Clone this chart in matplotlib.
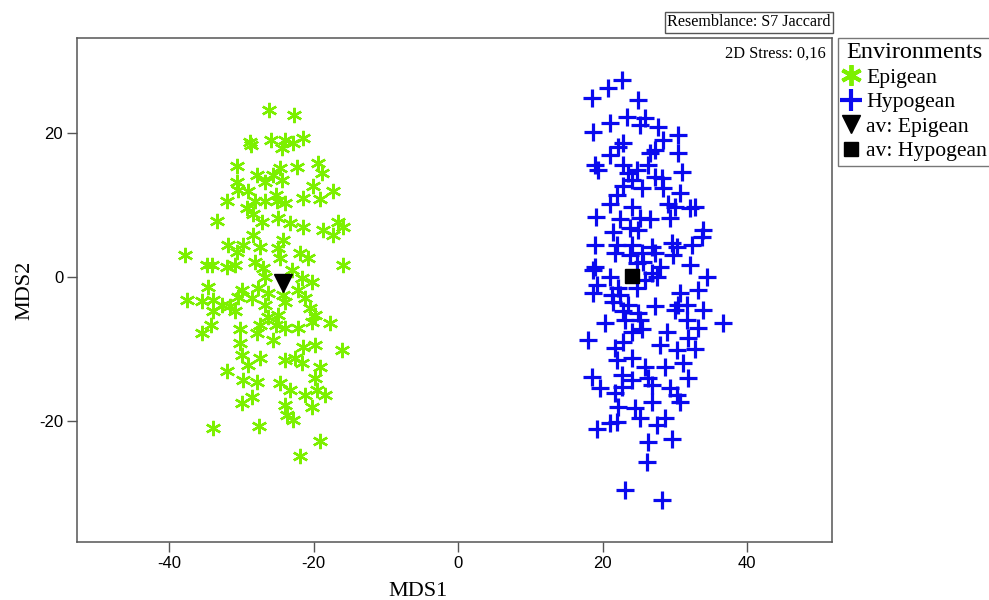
import numpy as np
import matplotlib
matplotlib.use("Agg")
import matplotlib.pyplot as plt
from matplotlib.lines import Line2D

# MDS coordinates
epigean = [
    (-26.2, 23.2), (-22.7, 22.5), (-28.8, 18.8), (-28.7, 18.4), (-25.9, 19.1), (-24.0, 19.1),
    (-24.4, 17.9), (-22.9, 18.6), (-21.5, 19.3), (-30.7, 15.5), (-24.7, 15.2), (-22.3, 15.3),
    (-19.4, 15.9), (-18.8, 14.5), (-27.8, 14.2), (-25.6, 14.2), (-24.4, 13.5), (-30.6, 13.2),
    (-30.5, 12.1), (-26.7, 13.2), (-20.1, 12.6), (-17.3, 11.9), (-21.5, 11.0), (-19.1, 10.8),
    (-25.3, 11.4), (-29.1, 11.9), (-32.0, 10.5), (-28.1, 10.5), (-29.2, 9.6), (-26.7, 10.5),
    (-25.1, 10.5), (-24.0, 10.3), (-33.4, 7.8), (-28.4, 8.7), (-24.9, 8.2), (-16.6, 7.6),
    (-27.2, 7.6), (-23.3, 7.5), (-21.5, 7.0), (-18.7, 6.6), (-17.3, 5.9), (-15.9, 6.9),
    (-37.8, 3.1), (-34.8, 1.7), (-34.1, 1.7), (-31.9, 4.5), (-30.6, 3.5), (-29.8, 4.5),
    (-28.4, 5.9), (-27.4, 4.2), (-24.9, 4.1), (-24.2, 5.2), (-24.7, 2.7), (-21.9, 3.4),
    (-20.8, 2.7), (-32.0, 1.4), (-30.9, 1.7), (-28.1, 2.1), (-27.1, 1.3), (-26.7, 0.0),
    (-23.0, 1.0), (-21.6, -0.1), (-20.2, -0.7), (-15.9, 1.7), (-34.6, -1.4), (-29.9, -1.8),
    (-27.7, -1.5), (-26.3, -2.2), (-24.2, -2.5), (-22.2, -1.8), (-37.5, -3.2), (-35.5, -3.4),
    (-33.9, -3.2), (-32.7, -3.9), (-31.6, -4.1), (-30.5, -2.8), (-28.5, -2.9), (-26.7, -3.9),
    (-24.0, -3.5), (-21.2, -2.9), (-20.5, -4.3), (-19.8, -5.3), (-33.9, -4.8), (-30.9, -4.8),
    (-26.3, -5.5), (-24.9, -5.3), (-20.2, -6.2), (-17.7, -6.4), (-34.3, -6.7), (-30.2, -7.3),
    (-27.4, -6.7), (-25.3, -6.7), (-24.0, -7.1), (-22.2, -7.1), (-35.5, -7.8), (-27.8, -7.8),
    (-25.6, -8.8), (-30.2, -9.2), (-21.5, -9.7), (-19.8, -9.5), (-16.1, -10.1), (-29.9, -10.8),
    (-27.4, -11.3), (-29.1, -12.2), (-24.0, -11.5), (-22.6, -11.3), (-21.6, -12.0), (-19.1, -12.5),
    (-32.0, -13.1), (-29.8, -14.3), (-27.8, -14.6), (-24.7, -14.7), (-19.8, -14.0), (-23.3, -15.7),
    (-21.2, -16.4), (-19.5, -15.7), (-18.4, -16.4), (-28.5, -16.7), (-29.9, -17.5), (-24.0, -17.8),
    (-20.2, -18.1), (-23.7, -19.2), (-22.9, -19.9), (-33.9, -21.0), (-27.6, -20.7), (-19.1, -22.8),
    (-21.9, -24.9),
]

hypogean = [
    (22.7, 27.4), (20.8, 26.3), (18.6, 24.9), (24.9, 24.6), (21.1, 21.4), (23.4, 22.3),
    (25.9, 22.1), (25.2, 21.2), (18.7, 20.1), (27.7, 20.8), (28.4, 19.1), (30.5, 19.8),
    (22.9, 18.7), (22.2, 18.1), (21.1, 17.0), (26.6, 17.3), (27.3, 17.7), (30.5, 17.3),
    (19.0, 15.6), (19.4, 14.9), (22.9, 15.6), (24.8, 14.9), (26.3, 15.6), (23.5, 14.5),
    (27.3, 13.9), (28.3, 13.8), (31.0, 14.6), (24.1, 13.5), (25.5, 12.4), (22.9, 12.6),
    (22.0, 11.4), (28.4, 12.4), (30.7, 11.7), (21.1, 10.1), (24.1, 9.8), (29.1, 10.1),
    (30.1, 9.8), (32.1, 9.6), (32.8, 9.8), (19.1, 8.4), (22.4, 8.0), (25.2, 8.2),
    (26.6, 8.0), (29.4, 8.2), (21.5, 6.3), (23.8, 6.8), (24.9, 6.6), (33.9, 6.6),
    (33.8, 5.6), (19.0, 4.5), (22.0, 4.5), (24.1, 4.5), (26.9, 4.2), (29.6, 4.7),
    (30.3, 4.2), (32.4, 4.5), (21.7, 3.4), (23.8, 3.1), (25.5, 3.4), (27.3, 3.4),
    (29.8, 3.1), (24.8, 2.0), (25.6, 2.1), (32.1, 1.7), (19.0, 1.4), (18.7, 1.0),
    (28.0, 1.4), (26.9, 0.6), (21.1, 0.0), (25.9, -0.4), (27.6, 0.0), (34.5, 0.0),
    (19.3, -1.1), (22.2, -1.5), (24.8, -1.5), (18.7, -2.2), (21.3, -2.5), (22.4, -2.5),
    (30.7, -2.2), (33.2, -1.8), (21.5, -3.5), (23.5, -3.9), (27.3, -4.1), (30.5, -3.9),
    (31.7, -3.9), (22.9, -4.8), (24.9, -5.0), (30.1, -4.6), (33.9, -4.6), (20.4, -6.4),
    (23.1, -6.0), (25.2, -6.0), (31.7, -6.0), (36.7, -6.4), (33.2, -7.1), (24.1, -7.6),
    (25.5, -7.3), (28.9, -7.6), (18.0, -8.7), (22.9, -9.0), (31.9, -8.5), (21.7, -9.9),
    (24.1, -11.3), (22.0, -11.5), (28.0, -9.4), (30.3, -10.2), (32.8, -10.0), (25.9, -12.5),
    (28.7, -12.5), (31.2, -12.0), (18.6, -13.9), (22.7, -13.6), (24.1, -14.3), (26.3, -14.0),
    (31.9, -14.0), (19.7, -15.4), (21.7, -16.1), (22.7, -15.3), (26.9, -15.0), (29.4, -15.4),
    (30.3, -16.4), (26.9, -17.4), (30.7, -17.4), (22.2, -18.1), (24.5, -18.2), (25.2, -19.6),
    (28.7, -19.6), (21.1, -20.3), (22.0, -20.2), (19.3, -21.2), (27.6, -20.6), (26.3, -22.9),
    (29.6, -22.6), (26.2, -25.8), (23.1, -29.6), (28.3, -31.0),
]

av_epigean = (-24.2, -0.8)
av_hypogean = (24.1, 0.2)

xticks = [-40, -20, 0, 20, 40]
yticks = [-20, 0, 20]

green = '#7cf000'
blue = '#0a0aee'
spine = '#555555'
serif = 'Liberation Serif'
sans = 'Liberation Sans'
asterisk = (6, 2, 0)

plt.rcParams['axes.unicode_minus'] = False

fig = plt.figure(figsize=(9.89, 6), dpi=100)
ax = fig.add_axes([0.0779, 0.0962, 0.7634, 0.84])

ex, ey = np.array(epigean).T
hx, hy = np.array(hypogean).T

ax.plot(ex, ey, linestyle='none', marker=asterisk, ms=11, mew=1.7, color=green)
ax.plot(hx, hy, linestyle='none', marker='+', ms=13, mew=2.3, color=blue)
ax.plot(*av_epigean, linestyle='none', marker='v', ms=13, color='black')
ax.plot(*av_hypogean, linestyle='none', marker='s', ms=10, color='black')

ax.set_xlim(-52.8, 51.8)
ax.set_ylim(-36.9, 33.2)
ax.set_xticks(xticks)
ax.set_yticks(yticks)
ax.tick_params(length=7, width=1, color=spine, labelsize=12, pad=3)
for lab in ax.get_xticklabels() + ax.get_yticklabels():
    lab.set_family(sans)
for s in ax.spines.values():
    s.set_color(spine)
    s.set_linewidth(1.1)

ax.set_xlabel('MDS1', fontsize=16, family=serif)
ax.xaxis.set_label_coords(0.452, -0.078)
ax.set_ylabel('MDS2', fontsize=16, family=serif)
ax.yaxis.set_label_coords(-0.056, 0.5)

ax.text(0.991, 0.986, '2D Stress: 0,16', transform=ax.transAxes, ha='right', va='top',
        fontsize=11.8, family=serif)

fig.text(0.840, 0.963, 'Resemblance: S7 Jaccard', ha='right', va='center', fontsize=11.6,
         family=serif, bbox=dict(boxstyle='square,pad=0.15', fc='white', ec=spine, lw=1))

handles = [
    Line2D([], [], linestyle='none', marker=asterisk, ms=15, mew=2.8, color=green),
    Line2D([], [], linestyle='none', marker='+', ms=16, mew=3, color=blue),
    Line2D([], [], linestyle='none', marker='v', ms=13, color='black'),
    Line2D([], [], linestyle='none', marker='s', ms=10, color='black'),
]
labels = ['Epigean', 'Hypogean', 'av: Epigean', 'av: Hypogean']
leg = fig.legend(handles, labels, loc='upper left', bbox_to_anchor=(838 / 989, 1 - 38 / 600),
                 title='Environments', prop={'family': serif, 'size': 15.6},
                 title_fontproperties={'family': serif, 'size': 17.5},
                 frameon=True, fancybox=False, edgecolor=spine, borderpad=0.2,
                 labelspacing=0.2, handlelength=0.8, handletextpad=0.3, borderaxespad=0)
leg.get_frame().set_linewidth(1)

fig.savefig('out.png', dpi=100)
